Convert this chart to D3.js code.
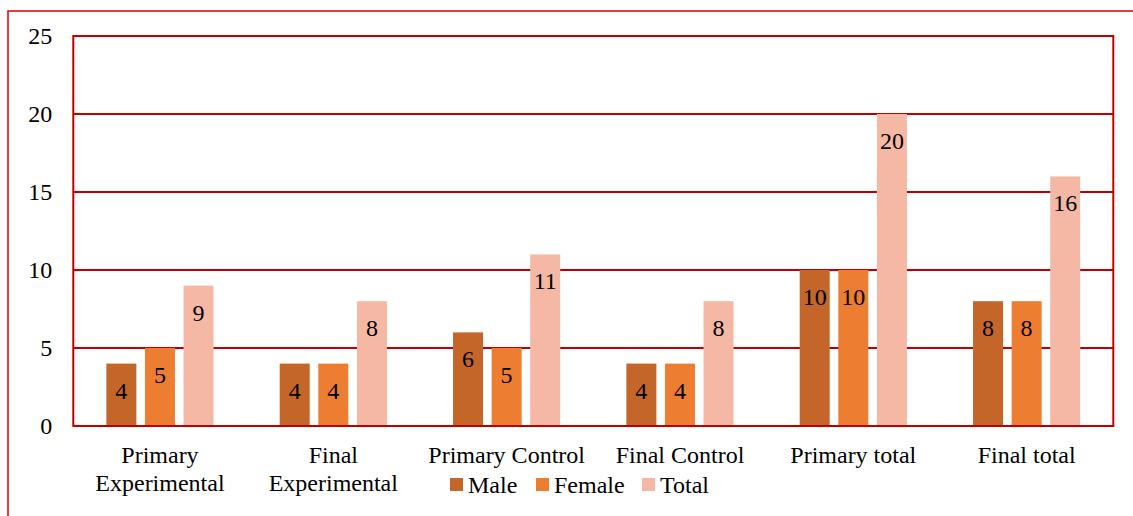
<!DOCTYPE html>
<html>
<head>
<meta charset="utf-8">
<script src="https://cdn.jsdelivr.net/npm/d3@7"></script>
<style>
  body { margin: 0; background: #fff; }
  svg text { font-family: "Liberation Serif", "DejaVu Serif", serif; fill: #000; }
</style>
</head>
<body>
<div id="viz"></div>
<script>
const categories = [
  ['Primary', 'Experimental'],
  ['Final', 'Experimental'],
  ['Primary Control'],
  ['Final Control'],
  ['Primary total'],
  ['Final total']
];
const seriesNames = ['Male', 'Female', 'Total'];
const maleValues = [4, 4, 6, 4, 10, 8];
const femaleValues = [5, 4, 5, 4, 10, 8];
const totalValues = [9, 8, 11, 8, 20, 16];
const yTicks = [0, 5, 10, 15, 20, 25];
const colors = ['#c4662a', '#ed7d31', '#f4b8a5'];

const W = 1133, H = 516;
const red = '#c00000';
const fs = 24;
const plot = { left: 73.3, top: 36, right: 1113.3, bottom: 426 };

const svg = d3.select('#viz').append('svg')
  .attr('width', W)
  .attr('height', H);

// outer frame
svg.append('rect')
  .attr('x', 8).attr('y', 11)
  .attr('width', W + 20).attr('height', H + 20)
  .attr('fill', 'none')
  .attr('stroke', '#d40000')
  .attr('stroke-width', 1.5);

const series = [maleValues, femaleValues, totalValues];
const idx = d3.range(categories.length);

const x0 = d3.scaleBand()
  .domain(idx)
  .range([plot.left, plot.right]);

const x1 = d3.scaleBand()
  .domain(seriesNames)
  .range([0, x0.bandwidth()])
  .paddingInner(0.223)
  .paddingOuter(0.857);

const y = d3.scaleLinear()
  .domain([0, 25])
  .range([plot.bottom, plot.top]);

// gridlines
svg.append('g')
  .selectAll('line')
  .data(yTicks)
  .join('line')
  .attr('x1', plot.left).attr('x2', plot.right)
  .attr('y1', d => y(d)).attr('y2', d => y(d))
  .attr('stroke', red)
  .attr('stroke-width', 2);

// bars
const groups = svg.append('g')
  .selectAll('g')
  .data(idx)
  .join('g')
  .attr('transform', i => `translate(${x0(i)},0)`);

groups.selectAll('rect')
  .data(i => seriesNames.map((s, k) => ({ s, k, v: series[k][i] })))
  .join('rect')
  .attr('x', d => x1(d.s))
  .attr('y', d => y(d.v))
  .attr('width', x1.bandwidth())
  .attr('height', d => y(0) - y(d.v))
  .attr('fill', d => colors[d.k]);

groups.selectAll('text.lbl')
  .data(i => seriesNames.map((s, k) => ({ s, k, v: series[k][i] })))
  .join('text')
  .attr('class', 'lbl')
  .attr('x', d => x1(d.s) + x1.bandwidth() / 2)
  .attr('y', d => y(d.v) + 35)
  .attr('text-anchor', 'middle')
  .attr('font-size', fs)
  .text(d => d.v);

// plot border
svg.append('rect')
  .attr('x', plot.left).attr('y', plot.top)
  .attr('width', plot.right - plot.left)
  .attr('height', plot.bottom - plot.top)
  .attr('fill', 'none')
  .attr('stroke', red)
  .attr('stroke-width', 2);

// y axis
const yAxis = svg.append('g')
  .attr('transform', `translate(${plot.left},0)`)
  .call(d3.axisLeft(y).tickValues(yTicks).tickSize(0).tickPadding(21));
yAxis.select('.domain').remove();
yAxis.selectAll('text')
  .attr('font-size', fs)
  .attr('fill', '#000')
  .attr('dy', '0.33em');

// x labels
const xl = svg.append('g')
  .selectAll('text')
  .data(idx)
  .join('text')
  .attr('x', i => x0(i) + x0.bandwidth() / 2)
  .attr('y', 463)
  .attr('text-anchor', 'middle')
  .attr('font-size', fs);
xl.selectAll('tspan')
  .data(i => categories[i].map(t => ({ t, x: x0(i) + x0.bandwidth() / 2 })))
  .join('tspan')
  .attr('x', d => d.x)
  .attr('dy', (d, j) => j === 0 ? 0 : 28)
  .text(d => d.t);

// legend
const legendX = [450, 536, 642];
const leg = svg.append('g')
  .selectAll('g')
  .data(seriesNames)
  .join('g')
  .attr('transform', (d, k) => `translate(${legendX[k]},478)`);
leg.append('rect')
  .attr('width', 13).attr('height', 13)
  .attr('fill', (d, k) => colors[k]);
leg.append('text')
  .attr('x', 18)
  .attr('y', 15)
  .attr('font-size', fs)
  .text(d => d);
</script>
</body>
</html>
